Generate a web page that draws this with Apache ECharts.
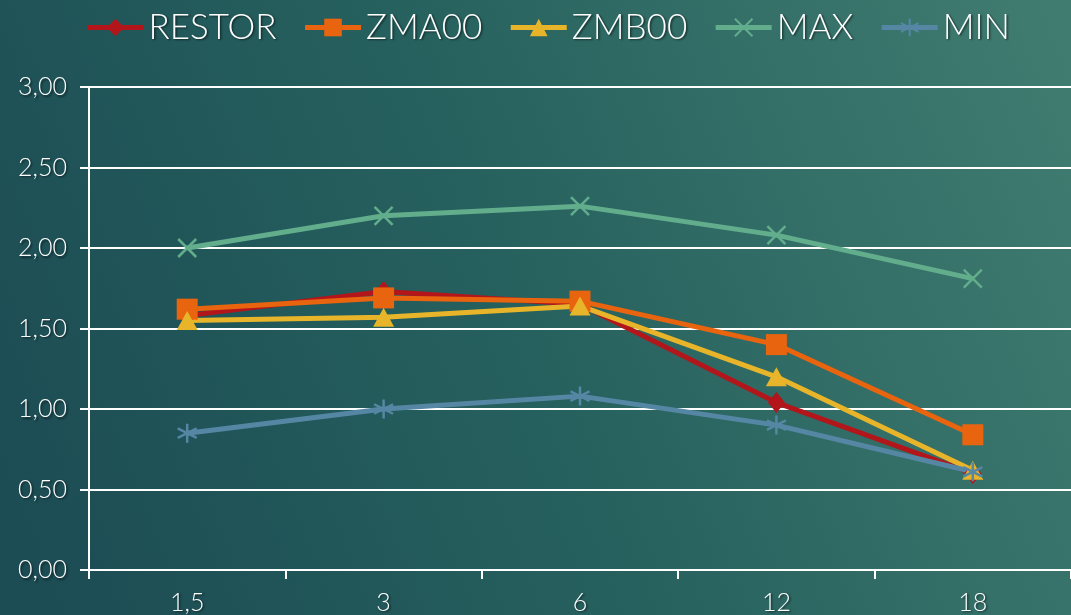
<!DOCTYPE html>
<html>
<head>
<meta charset="utf-8">
<title>RESTOR / ZMA00 / ZMB00 / MAX / MIN</title>
<script src="https://cdn.jsdelivr.net/npm/echarts@6/dist/echarts.min.js"></script>
<style>
  html, body { margin: 0; padding: 0; width: 1071px; height: 615px; overflow: hidden; }
  #chart { width: 1071px; height: 615px; }
</style>
</head>
<body>
<div id="chart"></div>
<script>
// Categories on the x axis and the y-axis range
const categories = ['1,5', '3', '6', '12', '18'];
const yTicks = [0, 0.5, 1, 1.5, 2, 2.5, 3];

// Series values
const restor = [1.58, 1.73, 1.65, 1.04, 0.60];
const zma00  = [1.62, 1.69, 1.67, 1.40, 0.84];
const zmb00  = [1.55, 1.57, 1.64, 1.20, 0.62];
const maxVal = [2.00, 2.20, 2.26, 2.08, 1.81];
const minVal = [0.85, 1.00, 1.08, 0.90, 0.61];

const FONT = 'Lato, "Open Sans", sans-serif';
const shadow = {
  textShadowColor: 'rgba(0,0,0,0.55)',
  textShadowBlur: 2,
  textShadowOffsetX: 1.5,
  textShadowOffsetY: 1.5
};

const X_PATH = 'path://M0,0L10,10M10,0L0,10';
const STAR_PATH = 'path://M5,0L5,10M0.7,2.5L9.3,7.5M0.7,7.5L9.3,2.5';

function lineSeries(name, data, color, symbol, size, stroked) {
  return {
    name: name,
    type: 'line',
    data: data,
    symbol: symbol,
    symbolSize: size,
    showAllSymbol: true,
    lineStyle: { color: color, width: 5 },
    itemStyle: stroked
      ? { color: 'rgba(0,0,0,0)', borderColor: color, borderWidth: 2.5 }
      : { color: color, borderWidth: 0 },
    emphasis: { disabled: true }
  };
}

const chart = echarts.init(document.getElementById('chart'));
chart.setOption({
  animation: false,
  backgroundColor: {
    type: 'linear', x: 0, y: 0.8, x2: 1, y2: 0.1,
    colorStops: [
      { offset: 0, color: '#1c4c54' },
      { offset: 0.5, color: '#27625f' },
      { offset: 1, color: '#417c71' }
    ]
  },
  textStyle: { fontFamily: FONT },
  legend: {
    top: 5,
    left: 80,
    itemWidth: 56,
    itemHeight: 22,
    itemGap: 26,
    lineStyle: { width: 5 },
    textStyle: Object.assign({ color: '#ffffff', fontSize: 35, fontWeight: 300, fontFamily: FONT }, shadow),
    data: ['RESTOR', 'ZMA00', 'ZMB00', 'MAX', 'MIN']
  },
  grid: { left: 89, right: 0, top: 87, bottom: 45, containLabel: false },
  xAxis: {
    type: 'category',
    data: categories,
    boundaryGap: true,
    axisLine: { show: true, lineStyle: { color: '#ffffff', width: 2 } },
    axisTick: { show: true, length: 9, alignWithLabel: false, lineStyle: { color: '#ffffff', width: 2 } },
    axisLabel: Object.assign({ color: '#ffffff', fontSize: 25, fontWeight: 300, margin: 20, fontFamily: FONT }, shadow),
    splitLine: { show: false }
  },
  yAxis: {
    type: 'value',
    min: yTicks[0],
    max: yTicks[yTicks.length - 1],
    interval: 0.5,
    axisLine: { show: true, lineStyle: { color: '#ffffff', width: 2 } },
    axisTick: { show: true, length: 9, lineStyle: { color: '#ffffff', width: 2 } },
    axisLabel: Object.assign({
      color: '#ffffff', fontSize: 25, fontWeight: 300, margin: 22, fontFamily: FONT,
      formatter: v => v.toFixed(2).replace('.', ',')
    }, shadow),
    splitLine: { show: true, lineStyle: { color: '#ffffff', width: 2 } }
  },
  series: [
    lineSeries('RESTOR', restor, '#b3161a', 'diamond', [17, 21], false),
    lineSeries('ZMA00', zma00, '#e9640f', 'rect', 21, false),
    lineSeries('ZMB00', zmb00, '#e8b52a', 'triangle', [21, 19], false),
    lineSeries('MAX', maxVal, '#62ad8c', X_PATH, 18, true),
    lineSeries('MIN', minVal, '#5587a5', STAR_PATH, 19, true)
  ]
});
</script>
</body>
</html>
